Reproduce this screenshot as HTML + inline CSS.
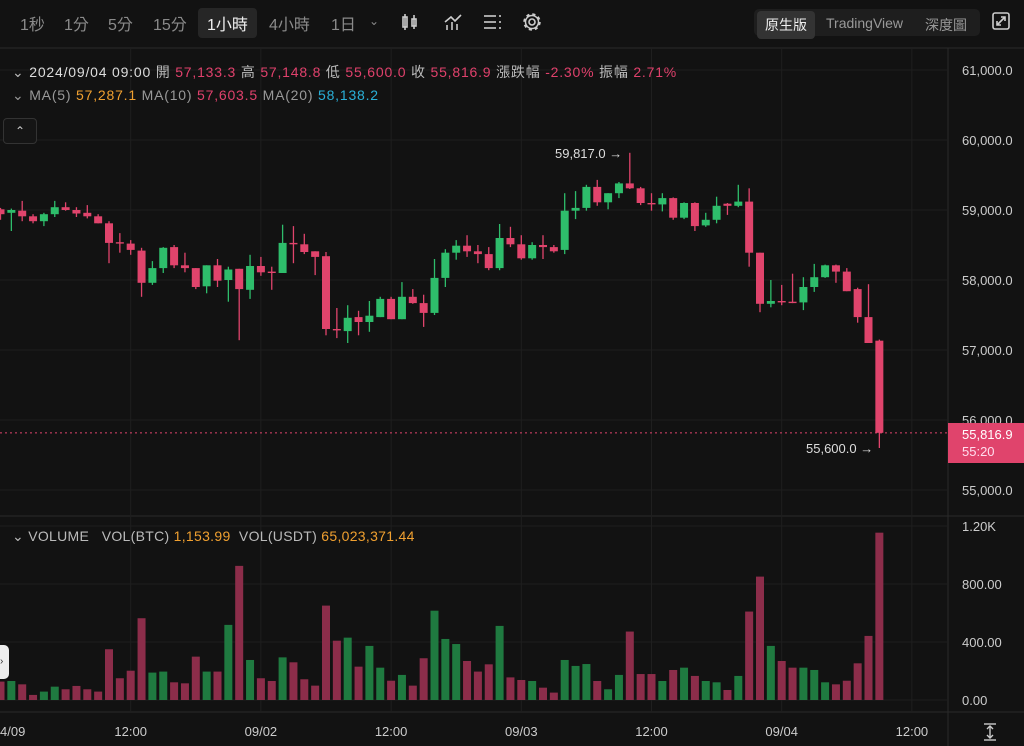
<!DOCTYPE html>
<html><head><meta charset="utf-8"><style>
body{margin:0;width:1024px;height:746px;background:#121212;overflow:hidden;font-family:"Liberation Sans","Noto Sans CJK TC",sans-serif;color:#ccc;position:relative}
.t{position:absolute;white-space:nowrap}
.tb{font-size:16px;color:#8a8a8a;top:11px}
.hd{font-size:14px;color:#bbb;letter-spacing:0.8px}
.r{color:#e0416c}
</style></head><body>
<div>
<span class="t tb" style="left:20px">1秒</span>
<span class="t tb" style="left:64px">1分</span>
<span class="t tb" style="left:108px">5分</span>
<span class="t tb" style="left:153px">15分</span>
<span class="t tb" style="left:198px;top:8px;padding:3px 9px;background:#262626;border-radius:4px;color:#eee">1小時</span>
<span class="t tb" style="left:269px">4小時</span>
<span class="t tb" style="left:331px">1日</span>
<span class="t tb" style="left:369px;font-size:12px;top:14px">⌄</span>
<svg class="t" style="left:400px;top:12px" width="20" height="20"><g stroke="#ccc" stroke-width="1.6" fill="none"><rect x="3" y="5" width="4" height="10"/><line x1="5" y1="2" x2="5" y2="18"/><rect x="12" y="7" width="4" height="7"/><line x1="14" y1="3" x2="14" y2="17"/></g></svg>
<svg class="t" style="left:443px;top:12px" width="20" height="20"><g stroke="#ccc" stroke-width="1.6" fill="none"><polyline points="2,10 8,5 12,9 18,3"/><line x1="4" y1="18" x2="4" y2="13"/><line x1="9" y1="18" x2="9" y2="10"/><line x1="14" y1="18" x2="14" y2="12"/></g></svg>
<svg class="t" style="left:482px;top:12px" width="20" height="20"><g stroke="#ccc" stroke-width="1.6"><line x1="2" y1="4" x2="14" y2="4"/><line x1="2" y1="10" x2="14" y2="10"/><line x1="2" y1="16" x2="14" y2="16"/><line x1="17" y1="4" x2="19" y2="4"/><line x1="17" y1="10" x2="19" y2="10"/><line x1="17" y1="16" x2="19" y2="16"/></g></svg>
<svg class="t" style="left:521px;top:11px" width="22" height="22"><circle cx="11" cy="11" r="3" stroke="#ccc" stroke-width="1.6" fill="none"/><circle cx="11" cy="11" r="7.5" stroke="#ccc" stroke-width="2.5" stroke-dasharray="3 2.9" fill="none"/><circle cx="11" cy="11" r="6.5" stroke="#ccc" stroke-width="1.5" fill="none"/></svg>
<div class="t" style="left:754px;top:9px;width:226px;height:27px;background:#1e1e1e;border-radius:5px"></div>
<span class="t" style="left:757px;top:11px;padding:4px 8px;background:#333;border-radius:4px;font-size:14px;color:#eee">原生版</span>
<span class="t" style="left:826px;top:15px;font-size:14px;color:#999">TradingView</span>
<span class="t" style="left:925px;top:15px;font-size:14px;color:#999">深度圖</span>
<svg class="t" style="left:992px;top:12px" width="18" height="18"><g stroke="#ccc" stroke-width="1.6" fill="none"><rect x="1" y="1" width="16" height="16" rx="2"/><polyline points="9,5 13,5 13,9"/><polyline points="5,9 5,13 9,13"/><line x1="13" y1="5" x2="5" y2="13"/></g></svg>
</div>
<svg id="chart" class="t" style="left:0;top:0" width="1024" height="746"></svg>
<div class="t hd" style="left:12px;top:62px">⌄ <span style="color:#ddd">2024/09/04 09:00</span> 開 <span class="r">57,133.3</span> 高 <span class="r">57,148.8</span> 低 <span class="r">55,600.0</span> 收 <span class="r">55,816.9</span> 漲跌幅 <span class="r">-2.30%</span> 振幅 <span class="r">2.71%</span></div>
<div class="t hd" style="left:12px;top:87px;color:#999">⌄ MA(5) <span style="color:#f0a030">57,287.1</span> MA(10) <span class="r">57,603.5</span> MA(20) <span style="color:#2ab0d8">58,138.2</span></div>
<div class="t" style="left:3px;top:118px;width:32px;height:24px;border:1px solid #333;border-radius:4px;background:#151515;text-align:center;font-size:12px;line-height:24px;color:#ccc">⌃</div>
<div class="t hd" style="left:12px;top:528px;color:#bbb;letter-spacing:0.3px">⌄ VOLUME &nbsp; VOL(BTC) <span style="color:#f0a030">1,153.99</span> &nbsp;VOL(USDT) <span style="color:#f0a030">65,023,371.44</span></div>
<div class="t" style="left:0;top:645px;width:9px;height:34px;background:#eee;border-radius:0 5px 5px 0;color:#333;font-size:10px;line-height:34px">›</div>
<div class="t" style="left:948px;top:423px;width:76px;height:40px;background:#e0446c"><div style="position:absolute;left:14px;top:4px;font-size:13px;color:#fff">55,816.9</div><div style="position:absolute;left:14px;top:21px;font-size:13px;color:#fde">55:20</div></div>
<div class="t" style="left:555px;top:146px;font-size:13px;color:#ddd">59,817.0 →</div>
<div class="t" style="left:806px;top:441px;font-size:13px;color:#ddd">55,600.0 →</div>
<svg class="t" style="left:982px;top:723px" width="16" height="18"><g stroke="#ccc" stroke-width="1.4" fill="none"><line x1="2" y1="1" x2="14" y2="1"/><line x1="2" y1="17" x2="14" y2="17"/><line x1="8" y1="3" x2="8" y2="15"/><polyline points="5,6 8,3 11,6"/><polyline points="5,12 8,15 11,12"/></g></svg>
<script>
const opens=[59010,58960,58990,58910,58840,58940,59040,59000,58960,58910,58810,58540,58520,58420,57960,58170,58470,58210,58170,57910,58210,58000,58160,57860,58200,58120,58100,58530,58510,58410,58340,57300,57270,57470,57400,57470,57730,57440,57760,57670,57530,58030,58390,58490,58410,58370,58170,58600,58510,58310,58500,58470,58430,58990,59030,59330,59110,59240,59380,59310,59100,59080,59170,58890,59100,58780,58860,59090,59060,59120,58390,57660,57700,57690,57680,57900,58040,58210,58120,57870,57470,57133.3];
const highs=[59030,59020,59130,58940,58960,59130,59110,59040,59070,58940,58840,58670,58570,58460,58270,58470,58500,58390,58170,58210,58300,58190,58160,58360,58330,58190,58790,58770,58660,58410,58400,57600,57640,57560,57700,57760,57760,57970,57870,57790,58300,58440,58570,58640,58500,58470,58800,58760,58640,58540,58640,58500,59240,59270,59360,59430,59240,59400,59817,59330,59240,59240,59180,59110,59110,58960,59190,59100,59360,59310,58390,58000,57930,58090,58040,58230,58220,58220,58170,57890,57940,57148.8];
const lows=[58860,58700,58840,58810,58770,58900,58990,58900,58880,58810,58240,58390,58360,57760,57930,58100,58170,58110,57870,57810,57900,57690,57140,57730,58060,57860,58100,58240,58370,58070,57210,57170,57100,57210,57260,57470,57440,57440,57660,57330,57500,57900,58290,58330,58240,58140,58140,58470,58290,58290,58300,58390,58370,58870,58990,59060,59010,59170,59300,59070,58990,58980,58860,58870,58700,58760,58810,58930,59040,58190,57540,57610,57640,57670,57570,57830,58030,57960,57840,57390,57100,55600];
const closes=[58940,59000,58910,58840,58940,59040,59000,58950,58910,58810,58530,58520,58430,57960,58170,58460,58210,58170,57900,58210,57990,58150,57870,58200,58110,58100,58530,58510,58400,58330,57300,57280,57460,57400,57490,57730,57440,57760,57670,57530,58030,58390,58490,58410,58370,58170,58600,58510,58310,58500,58470,58410,58990,59030,59330,59110,59240,59380,59310,59100,59080,59170,58890,59100,58770,58860,59060,59060,59120,58390,57660,57700,57680,57670,57900,58040,58210,58120,57840,57470,57100,55816.9];
const volumes=[127,131,108,35,58,92,74,97,74,58,350,150,202,564,189,196,122,115,299,196,196,518,925,276,150,131,294,260,143,99,651,409,430,230,373,223,133,173,99,288,616,421,386,269,196,246,511,156,138,131,85,51,276,235,248,131,74,173,472,179,179,131,207,223,166,131,122,69,166,610,851,373,269,223,223,207,122,108,133,253,442,1153.99];
const priceTicks=[61000,60000,59000,58000,57000,56000,55000];
const volTicks=[1200,800,400,0];
const volTickLabels=["1.20K","800.00","400.00","0.00"];
const timeTicks=[-12,12,24,36,48,60,72,84];
const timeTickLabels=["4/09","12:00","09/02","12:00","09/03","12:00","09/04","12:00"];
const fmt=n=>n.toLocaleString('en-US',{minimumFractionDigits:1,maximumFractionDigits:1});
const xOf=i=>0.5+i*10.85;
const yP=p=>70+(61000-p)*0.07;
const yV=v=>700-v*0.145;
const svg=document.getElementById('chart');
const NS='http://www.w3.org/2000/svg';
function mk(tag,attrs){const e=document.createElementNS(NS,tag);for(const k in attrs)e.setAttribute(k,attrs[k]);svg.appendChild(e);return e;}
let e=mk('line',{x1:0,y1:48,x2:1024,y2:48,stroke:'#2a2a2a'});


e=mk('line',{x1:948,y1:48,x2:948,y2:746,stroke:'#2a2a2a'});


e=mk('line',{x1:0,y1:516,x2:1024,y2:516,stroke:'#2a2a2a'});


e=mk('line',{x1:0,y1:712,x2:1024,y2:712,stroke:'#2a2a2a'});


priceTicks.forEach(p=>{
 const g=mk('line',{x1:0,y1:yP(p),x2:948,y2:yP(p),stroke:'#1f1f1f'});
 
 
 const t=mk('text',{x:962,y:yP(p)+5,fill:'#ccc','font-size':13,'font-family':'Liberation Sans'});
 t.textContent=fmt(p);
 
 
});
volTicks.forEach((v,k)=>{
 const g=mk('line',{x1:0,y1:yV(v),x2:948,y2:yV(v),stroke:'#1f1f1f'});
 
 
 const t=mk('text',{x:962,y:yV(v)+5,fill:'#ccc','font-size':13,'font-family':'Liberation Sans'});
 t.textContent=volTickLabels[k];
 
 
});
timeTicks.forEach((h,k)=>{
 const x=xOf(h);
 const g=mk('line',{x1:x,y1:48,x2:x,y2:712,stroke:'#1f1f1f'});
 
 
 const t=mk('text',{x:k===0?0:x,y:736,fill:'#ccc','font-size':13,'font-family':'Liberation Sans','text-anchor':k===0?'start':'middle'});
 t.textContent=timeTickLabels[k];
 
 
});
opens.forEach((o,i)=>{
 const c=closes[i],up=c>=o,x=xOf(i);
 const col=up?'#2ebd6b':'#e0446c';
 const w=mk('line',{x1:x,y1:yP(highs[i]),x2:x,y2:yP(lows[i]),stroke:col,'stroke-width':1.3});
 
 
 const top=yP(Math.max(o,c)),h=Math.max(1.3,yP(Math.min(o,c))-top);
 const b=mk('rect',{x:x-4,y:top,width:8,height:h,fill:col});
 
 
 const vb=mk('rect',{x:x-4,y:yV(volumes[i]),width:8,height:700-yV(volumes[i]),fill:up?'#1f7a40':'#8c2d4a'});
 
 
});
const lp=closes[closes.length-1];
e=mk('line',{x1:0,y1:yP(lp),x2:948,y2:yP(lp),stroke:'#e0446c','stroke-dasharray':'2 3'});


</script>
</body></html>
